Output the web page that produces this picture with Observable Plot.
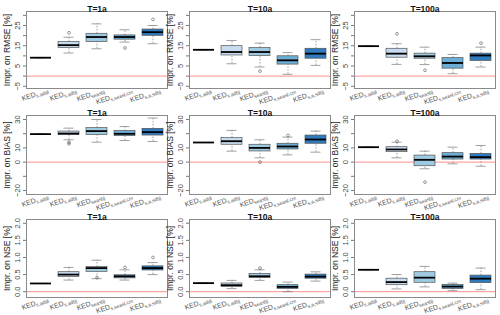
<!DOCTYPE html>
<html><head><meta charset="utf-8">
<script src="https://cdn.jsdelivr.net/npm/d3@7"></script>
<script src="https://cdn.jsdelivr.net/npm/@observablehq/plot@0.6"></script>
<style>
body{margin:0;background:#fff;}
#wrap{position:relative;width:500px;height:315px;overflow:hidden;font-family:"Liberation Sans",Arial,sans-serif;}
#wrap svg{position:absolute;overflow:visible;}
</style></head><body><div id="wrap"></div>
<script>
// categories
const methods = ["m1","m2","m3","m4","m5"];
const subLabels = ["s,addi","s,adbj","seasbj","s,seasl,cm","s,a,sdbj"];
const periods = ["T=1a","T=10a","T=100a"];
const metrics = ["RMSE","BIAS","NSE"];
const boxColors = ["#08306b","#c6dbef","#9ecae1","#6baed6","#2f7bbf"];

// box stats per method: [lower whisker, q1, median, q3, upper whisker]
const rmse_1a   = [[9.1,9.1,9.1,9.1,9.1],[11.4,13.9,15.3,16.8,19.2],[13.5,16.8,19.3,20.9,25.8],[16.8,18.0,19.3,20.1,22.9],[16.0,19.9,21.7,23.0,25.0]];
const rmse_10a  = [[13.0,13.0,13.0,13.0,13.0],[6.1,10.2,11.9,14.8,17.6],[4.5,9.9,11.9,13.9,16.3],[0.9,5.7,7.8,9.8,11.6],[5.3,8.6,11.1,13.5,18.0]];
const rmse_100a = [[14.8,14.8,14.8,14.8,14.8],[5.8,9.1,11.1,13.5,16.0],[5.7,8.6,9.8,11.1,14.3],[1.2,3.7,6.5,8.9,10.7],[4.5,7.5,10.2,11.1,14.3]];
const bias_1a   = [[19.7,19.7,19.7,19.7,19.7],[15.7,19.0,20.1,21.5,23.9],[14.0,19.0,21.8,23.9,30.0],[15.2,18.3,19.9,21.8,25.0],[14.5,18.7,21.1,23.4,31.0]];
const bias_10a  = [[13.8,13.8,13.8,13.8,13.8],[7.7,12.2,14.7,16.9,22.3],[3.0,7.5,10.0,12.2,15.7],[5.1,8.9,11.0,12.9,17.6],[7.0,12.9,15.9,18.7,21.8]];
const bias_100a = [[10.5,10.5,10.5,10.5,10.5],[3.0,7.0,8.9,10.5,14.0],[-4.7,-2.9,1.6,4.6,7.7],[-1.2,1.8,3.9,6.3,10.5],[-2.9,1.8,3.5,5.8,11.7]];
const nse_1a    = [[0.24,0.24,0.24,0.24,0.24],[0.34,0.43,0.50,0.57,0.71],[0.38,0.58,0.69,0.72,0.92],[0.34,0.39,0.45,0.48,0.64],[0.50,0.62,0.69,0.74,0.85]];
const nse_10a   = [[0.25,0.25,0.25,0.25,0.25],[0.09,0.14,0.19,0.24,0.33],[0.33,0.40,0.45,0.52,0.64],[0.00,0.08,0.14,0.19,0.28],[0.31,0.38,0.44,0.50,0.58]];
const nse_100a  = [[0.64,0.64,0.64,0.64,0.64],[0.08,0.19,0.28,0.38,0.50],[0.14,0.26,0.41,0.57,0.74],[0.03,0.08,0.15,0.20,0.25],[0.06,0.25,0.38,0.47,0.69]];

// outliers per method
const rmse_1a_out   = [[],[21.4],[],[13.9],[28.0]];
const rmse_10a_out  = [[],[],[2.5],[],[]];
const rmse_100a_out = [[],[20.9],[2.9],[],[16.3]];
const bias_1a_out   = [[],[14.0,12.9],[],[],[]];
const bias_10a_out  = [[],[],[0.0],[18.7],[]];
const bias_100a_out = [[],[14.7],[-14.1],[],[]];
const nse_1a_out    = [[],[],[0.41],[0.71],[1.0]];
const nse_10a_out   = [[],[],[0.69],[],[]];
const nse_100a_out  = [[],[],[],[],[]];

// y axis setup per metric
const rmseTicks = [-5,0,5,10,15,20,25,30], rmseLabels = [-5,5,15,25];
const biasTicks = [-20,-10,0,10,20,30], biasLabels = [-20,0,10,30];
const nseTicks = [0,0.5,1,1.5,2], nseLabels = [0,0.5,1,1.5,2];

const rowsCfg = [
  {metric:"RMSE", domain:[-6.1,31.9], ticks:rmseTicks, labels:rmseLabels, fmt:d=>String(d).replace("-","\u2212"), top:11, h:77,
   stats:[rmse_1a,rmse_10a,rmse_100a], outs:[rmse_1a_out,rmse_10a_out,rmse_100a_out]},
  {metric:"BIAS", domain:[-22.8,32.8], ticks:biasTicks, labels:biasLabels, fmt:d=>String(d).replace("-","\u2212"), top:115, h:79,
   stats:[bias_1a,bias_10a,bias_100a], outs:[bias_1a_out,bias_10a_out,bias_100a_out]},
  {metric:"NSE", domain:[-0.17,2.11], ticks:nseTicks, labels:nseLabels, fmt:d=>d.toFixed(1), top:219, h:78,
   stats:[nse_1a,nse_10a,nse_100a], outs:[nse_1a_out,nse_10a_out,nse_100a_out]}
];
const colLefts = [26,189,354];
const frameW = 141;
const mL = 30, mR = 4, mT = 14, mB = 20;

const wrap = document.getElementById("wrap");

rowsCfg.forEach(rc => {
  periods.forEach((p, ci) => {
    const st = rc.stats[ci];
    const rows = methods.map((m,i)=>({m, lo:st[i][0], q1:st[i][1], med:st[i][2], q3:st[i][3], hi:st[i][4], color:boxColors[i]}));
    const outRows = rc.outs[ci].flatMap((o,i)=>o.map(v=>({m:methods[i], v})));
    const plot = Plot.plot({
      width: frameW + mL + mR, height: rc.h + mT + mB,
      marginLeft: mL, marginRight: mR, marginTop: mT, marginBottom: mB,
      style: {fontFamily:'"Liberation Sans",Arial,sans-serif', fontSize:"8px", background:"transparent", overflow:"visible"},
      x: {domain: methods, paddingInner: 0.24, paddingOuter: 0.12, axis: null},
      y: {domain: rc.domain, axis: null},
      color: {type:"identity"},
      marks: [
        Plot.ruleY([0], {stroke:"#ffa3a3", strokeWidth:1.2}),
        Plot.ruleX(rows, {x:"m", y1:"q3", y2:"hi", stroke:"#777", strokeWidth:0.7, strokeDasharray:"1.5,1.5"}),
        Plot.ruleX(rows, {x:"m", y1:"lo", y2:"q1", stroke:"#777", strokeWidth:0.7, strokeDasharray:"1.5,1.5"}),
        Plot.tickY(rows, {x:"m", y:"hi", stroke:"#777", strokeWidth:0.7, insetLeft:5.5, insetRight:5.5}),
        Plot.tickY(rows, {x:"m", y:"lo", stroke:"#777", strokeWidth:0.7, insetLeft:5.5, insetRight:5.5}),
        Plot.barY(rows, {x:"m", y1:"q1", y2:"q3", fill:"color", stroke:"#555", strokeWidth:0.7}),
        Plot.tickY(rows, {x:"m", y:"med", stroke:"#000", strokeWidth:1.8}),
        Plot.dot(outRows, {x:"m", y:"v", r:1.4, stroke:"#555", strokeWidth:0.6}),
        Plot.frame({stroke:"#8a8a8a", strokeWidth:1}),
        Plot.axisY({ticks: rc.ticks, tickSize:3, tickPadding:0, tickFormat:()=>"", label:null, stroke:"#777"}),
        Plot.text(rc.labels, {y:d=>d, text:rc.fmt, frameAnchor:"left", dx:-9, rotate:-90, textAnchor:"middle", fill:"#444", fontSize:7.5}),
        Plot.text([`Impr. on ${rc.metric} [%]`], {frameAnchor:"left", dx:-19, rotate:-90, textAnchor:"middle", fill:"#222", fontSize:8.5}),
        Plot.text([p], {frameAnchor:"top", dy:-6, fontWeight:"bold", fill:"#111", fontSize:8.5}),
        Plot.axisX({tickSize:0, tickRotate:-20, tickPadding:2, dx:7, dy:-1, label:null, fill:"#555", fontSize:7})
      ]
    });
    plot.style.left = (colLefts[ci] - mL) + "px";
    plot.style.top = (rc.top - mT) + "px";
    wrap.appendChild(plot);
    // subscript labels
    const texts = plot.querySelectorAll('g[aria-label="x-axis tick label"] text');
    texts.forEach((t, i) => {
      const sub = subLabels[methods.indexOf(t.textContent)] ?? subLabels[i];
      t.textContent = "";
      const a = document.createElementNS("http://www.w3.org/2000/svg","tspan");
      a.textContent = "KED";
      const b = document.createElementNS("http://www.w3.org/2000/svg","tspan");
      b.textContent = sub;
      b.setAttribute("font-size","5");
      b.setAttribute("dy","1.8");
      t.appendChild(a); t.appendChild(b);
    });
  });
});
</script></body></html>
